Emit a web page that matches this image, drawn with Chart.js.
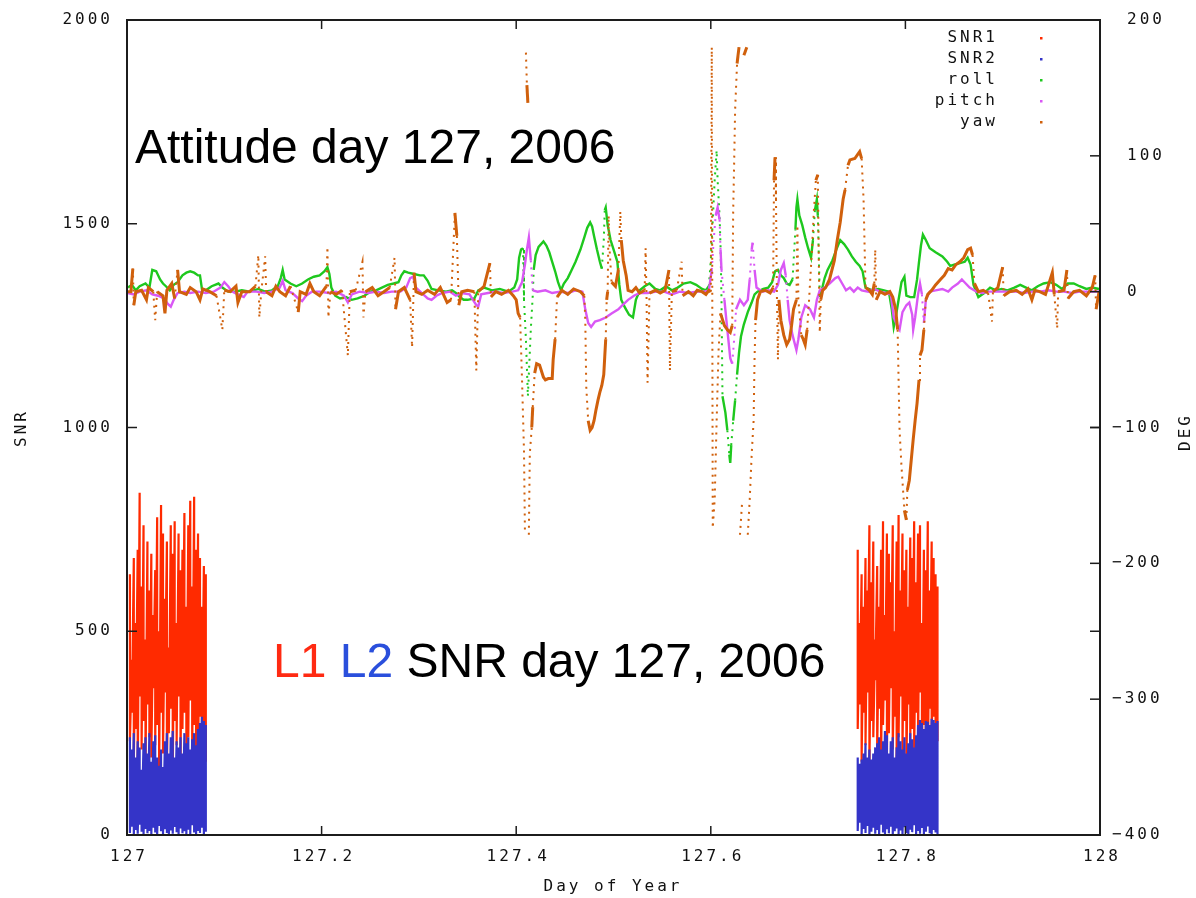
<!DOCTYPE html>
<html>
<head>
<meta charset="utf-8">
<title>Attitude and SNR, day 127 2006</title>
<script src="https://cdn.jsdelivr.net/npm/chart.js@4.4.1/dist/chart.umd.min.js"></script>
<style>
  html, body { margin: 0; padding: 0; background: #fff; }
  #wrap { width: 1196px; height: 898px; }
</style>
</head>
<body>
<div id="wrap"><canvas id="attChart"></canvas></div>
<script>
// axis ticks
const xTicks = [127, 127.2, 127.4, 127.6, 127.8, 128];
const xTickLabels = ['127', '127.2', '127.4', '127.6', '127.8', '128'];
const snrTicks = [0, 500, 1000, 1500, 2000];
const degTicks = [200, 100, 0, -100, -200, -300, -400];

// SNR passes: first pass (start of day) and second pass (~127.75)
const snrDayA = [127.003, 127.005, 127.007, 127.009, 127.011, 127.013, 127.015, 127.017, 127.019, 127.021,
  127.023, 127.025, 127.027, 127.029, 127.031, 127.033, 127.035, 127.037, 127.039, 127.041,
  127.043, 127.045, 127.047, 127.049, 127.051, 127.053, 127.055, 127.057, 127.059, 127.061,
  127.063, 127.065, 127.067, 127.069, 127.071, 127.073, 127.075, 127.077, 127.079, 127.081];
const snr1HiA = [640, 430, 680, 520, 700, 840, 610, 760, 480, 720, 600, 690, 540, 650, 780, 500, 810, 740, 580, 720,
  460, 760, 690, 770, 520, 740, 650, 700, 790, 560, 760, 820, 610, 830, 700, 740, 680, 560, 660, 640];
const snr1LoA = [230, 300, 180, 260, 120, 340, 210, 280, 150, 320, 240, 190, 360, 220, 270, 140, 300, 200, 350, 170,
  250, 310, 130, 280, 220, 340, 180, 260, 300, 150, 240, 330, 190, 270, 210, 160, 290, 230, 200, 180];
const snr2HiA = [240, 210, 250, 190, 230, 215, 160, 225, 240, 200, 250, 180, 230, 245, 190, 170, 210, 167, 230, 250,
  200, 240, 255, 190, 230, 215, 240, 200, 250, 225, 240, 210, 235, 250, 220, 260, 275, 290, 280, 270];
const snr2LoA = [5, 20, 0, 12, 3, 25, 8, 0, 15, 4, 10, 0, 18, 6, 2, 22, 9, 0, 14, 5,
  0, 11, 3, 20, 7, 0, 16, 4, 9, 0, 13, 2, 24, 6, 0, 10, 5, 18, 0, 8];

const snrDayB = [127.751, 127.753, 127.755, 127.757, 127.759, 127.761, 127.763, 127.765, 127.767, 127.769,
  127.771, 127.773, 127.775, 127.777, 127.779, 127.781, 127.783, 127.785, 127.787, 127.789,
  127.791, 127.793, 127.795, 127.797, 127.799, 127.801, 127.803, 127.805, 127.807, 127.809,
  127.811, 127.813, 127.815, 127.817, 127.819, 127.821, 127.823, 127.825, 127.827, 127.829,
  127.831, 127.833];
const snr1HiB = [700, 520, 640, 560, 680, 600, 760, 620, 720, 480, 660, 560, 700, 770, 540, 740, 690, 620, 760, 500,
  720, 785, 600, 740, 650, 700, 560, 730, 680, 770, 620, 740, 760, 520, 700, 650, 770, 600, 720, 680, 640, 610];
const snr1LoB = [260, 320, 180, 300, 220, 350, 160, 280, 240, 380, 200, 310, 150, 270, 330, 190, 250, 360, 210, 290,
  170, 240, 340, 200, 280, 150, 320, 230, 260, 190, 300, 220, 350, 180, 270, 240, 160, 310, 200, 290, 250, 230];
const snr2HiB = [190, 175, 185, 200, 225, 190, 210, 185, 200, 215, 225, 240, 210, 230, 255, 245, 200, 230, 240, 190,
  215, 250, 230, 210, 240, 200, 225, 250, 235, 215, 245, 270, 282, 275, 260, 280, 278, 270, 285, 282, 275, 280];
const snr2LoB = [10, 30, 0, 15, 5, 22, 0, 8, 18, 3, 12, 0, 25, 6, 0, 14, 4, 20, 0, 9,
  16, 2, 11, 0, 19, 5, 0, 13, 7, 24, 0, 10, 3, 17, 0, 8, 21, 4, 0, 12, 6, 0];

// attitude, [day, degrees]; null = break in the track (yaw wraps at +/-180)
const rollDeg = [
  [127.001,3],[127.005,5],[127.009,1],[127.013,4],[127.019,6],[127.023,3],[127.026,16],[127.030,15],[127.034,9],[127.037,6],
  [127.040,4],[127.044,1],[127.048,5],[127.052,7],[127.057,12],[127.061,14],[127.065,15],[127.069,14],[127.073,12],[127.075,12],
  [127.077,2],[127.081,1],[127.087,4],[127.094,6],[127.098,3],[127.104,0],[127.111,0],[127.118,1],[127.126,0],[127.135,2],
  [127.142,0],[127.149,1],[127.155,4],[127.158,10],[127.160,16],[127.162,9],[127.168,6],[127.174,4],[127.180,6],[127.186,9],
  [127.192,11],[127.198,12],[127.203,15],[127.206,18],[127.208,13],[127.210,3],[127.214,-3],[127.219,-5],[127.225,-4],[127.231,-6],
  [127.237,-5],[127.244,-3],[127.250,0],[127.256,1],[127.262,3],[127.268,5],[127.274,6],[127.279,7],[127.282,12],[127.285,15],
  [127.289,14],[127.295,13],[127.301,12],[127.305,12],[127.309,8],[127.313,2],[127.320,1],[127.328,0],[127.334,1],[127.338,-1],
  [127.342,-4],[127.346,-6],[127.350,-6],[127.357,-5],[127.361,1],[127.367,3],[127.375,1],[127.383,2],[127.392,0],[127.398,3],
  [127.401,9],[127.403,25],[127.405,31],[127.407,32],[127.408,-6],[127.410,-35],[127.412,-77],[127.415,-28],[127.417,-3],[127.418,16],
  [127.420,27],[127.423,33],[127.428,37],[127.431,34],[127.434,29],[127.437,22],[127.440,15],[127.443,7],[127.446,1],[127.449,6],
  [127.453,10],[127.457,16],[127.461,22],[127.466,31],[127.470,40],[127.473,47],[127.476,51],[127.478,48],[127.480,41],[127.483,31],
  [127.486,22],[127.488,17],[127.490,38],[127.491,60],[127.492,62],[127.494,49],[127.497,38],[127.501,29],[127.504,22],[127.506,5],
  [127.508,-6],[127.512,-12],[127.516,-17],[127.520,-19],[127.523,-6],[127.527,1],[127.532,4],[127.537,6],[127.543,2],[127.548,1],
  [127.554,4],[127.560,1],[127.566,3],[127.572,6],[127.579,7],[127.585,5],[127.591,2],[127.595,1],[127.598,4],[127.600,23],
  [127.602,53],[127.604,82],[127.606,104],[127.607,82],[127.609,56],[127.610,34],[127.611,-6],[127.612,-77],[127.615,-89],[127.617,-102],
  [127.619,-120],[127.620,-126],[127.621,-113],[127.623,-95],[127.625,-80],[127.627,-61],[127.629,-45],[127.631,-33],[127.634,-24],[127.638,-15],
  [127.642,-8],[127.645,-2],[127.648,0],[127.654,2],[127.659,3],[127.663,7],[127.666,15],[127.669,16],[127.672,12],[127.675,10],
  [127.678,6],[127.681,5],[127.684,9],[127.687,46],[127.688,62],[127.689,68],[127.691,56],[127.694,49],[127.697,40],[127.700,32],
  [127.703,25],[127.705,38],[127.707,60],[127.709,68],[127.710,56],[127.712,-4],[127.714,1],[127.717,10],[127.720,16],[127.725,23],
  [127.729,31],[127.733,38],[127.737,35],[127.741,31],[127.745,26],[127.749,22],[127.753,19],[127.756,15],[127.759,3],[127.766,1],
  [127.772,2],[127.778,1],[127.783,0],[127.786,-13],[127.788,-26],[127.790,-19],[127.793,-6],[127.796,7],[127.799,11],[127.801,-3],
  [127.805,-4],[127.809,-4],[127.812,9],[127.814,22],[127.816,34],[127.818,42],[127.821,38],[127.825,32],[127.831,29],[127.838,26],
  [127.843,22],[127.846,19],[127.851,20],[127.856,21],[127.861,22],[127.864,25],[127.867,20],[127.870,5],[127.875,-4],[127.881,-1],
  [127.887,3],[127.893,1],[127.899,2],[127.905,1],[127.912,3],[127.918,5],[127.924,3],[127.930,1],[127.936,4],[127.942,6],
  [127.949,7],[127.955,5],[127.961,2],[127.967,6],[127.973,6],[127.979,4],[127.986,2],[127.992,3],[127.999,2]
];

const pitchDeg = [
  [127.001,-1],[127.007,-2],[127.013,0],[127.020,1],[127.026,-2],[127.032,-3],[127.038,-5],[127.042,-9],[127.045,-11],[127.048,-6],
  [127.052,-1],[127.059,0],[127.065,-1],[127.073,0],[127.081,-1],[127.089,0],[127.096,3],[127.100,7],[127.104,4],[127.108,0],
  [127.114,-2],[127.120,-4],[127.124,0],[127.133,0],[127.141,-1],[127.149,0],[127.157,3],[127.160,8],[127.163,1],[127.170,-1],
  [127.176,-5],[127.180,-7],[127.184,-3],[127.190,0],[127.198,0],[127.207,-1],[127.215,0],[127.223,-3],[127.227,-8],[127.231,-2],
  [127.239,0],[127.248,-1],[127.256,0],[127.264,-1],[127.272,0],[127.281,0],[127.287,3],[127.291,10],[127.294,11],[127.297,3],
  [127.303,-1],[127.309,-5],[127.313,-6],[127.318,-3],[127.324,-1],[127.332,0],[127.338,-3],[127.344,-1],[127.352,-2],[127.359,-10],
  [127.361,-11],[127.364,-2],[127.371,-1],[127.379,0],[127.387,-1],[127.396,0],[127.402,1],[127.406,7],[127.409,20],[127.411,31],
  [127.413,40],[127.415,23],[127.417,1],[127.422,0],[127.430,1],[127.437,-1],[127.445,0],[127.453,-1],[127.461,1],[127.468,0],
  [127.471,-13],[127.474,-23],[127.477,-26],[127.481,-22],[127.486,-21],[127.492,-19],[127.498,-16],[127.505,-13],[127.509,-10],[127.515,-6],
  [127.521,-3],[127.527,-1],[127.535,-1],[127.544,0],[127.552,0],[127.560,-2],[127.568,0],[127.577,-1],[127.585,0],[127.593,0],
  [127.598,1],[127.601,16],[127.603,38],[127.605,56],[127.607,62],[127.609,53],[127.610,31],[127.611,16],[127.614,-6],[127.616,-21],
  [127.618,-35],[127.620,-49],[127.622,-53],[127.624,-35],[127.626,-13],[127.630,-6],[127.634,-10],[127.638,-6],[127.640,9],[127.642,31],
  [127.643,36],[127.645,16],[127.647,3],[127.653,0],[127.659,1],[127.665,0],[127.669,5],[127.672,16],[127.675,21],[127.677,12],
  [127.679,-6],[127.681,-21],[127.684,-32],[127.688,-43],[127.690,-35],[127.693,-19],[127.697,-10],[127.702,-13],[127.706,-19],[127.709,-6],
  [127.712,1],[127.717,3],[127.722,6],[127.728,10],[127.731,11],[127.735,6],[127.739,1],[127.743,3],[127.747,0],[127.751,3],
  [127.755,1],[127.762,0],[127.768,2],[127.774,0],[127.780,-1],[127.785,-2],[127.788,-19],[127.791,-24],[127.794,-28],[127.797,-15],
  [127.801,-10],[127.804,-8],[127.807,-17],[127.808,-28],[127.810,-19],[127.813,-2],[127.815,6],[127.817,-2],[127.819,-23],[127.821,-6],
  [127.825,0],[127.831,1],[127.838,2],[127.844,0],[127.848,3],[127.854,6],[127.858,9],[127.862,6],[127.866,3],[127.873,0],
  [127.879,-1],[127.885,0],[127.891,0],[127.897,0],[127.905,0],[127.914,0],[127.922,-1],[127.930,0],[127.938,0],[127.947,1],
  [127.955,0],[127.963,0],[127.971,-1],[127.979,0],[127.988,0],[127.999,0]
];

const yawDeg = [
  [127.001,0],[127.004,0],[127.006,17],[127.007,-10],[127.009,0],[127.015,1],[127.020,-6],[127.022,3],[127.027,0],[127.029,-21],
  [127.031,0],[127.037,-3],[127.039,-16],[127.041,1],[127.046,6],[127.049,-5],[127.052,16],[127.054,0],[127.061,-2],[127.065,3],
  [127.071,0],[127.075,-6],[127.078,2],[127.085,0],[127.092,-3],[127.098,-28],[127.100,1],[127.106,0],[127.112,4],[127.114,-8],
  [127.118,0],[127.126,0],[127.132,4],[127.135,27],[127.136,-19],[127.138,0],[127.142,26],[127.143,0],[127.149,-3],[127.153,4],
  [127.157,0],[127.163,-3],[127.168,4],[127.176,-15],[127.178,0],[127.184,-2],[127.188,6],[127.192,0],[127.198,-3],[127.205,4],
  [127.206,33],[127.207,-19],[127.209,0],[127.215,-2],[127.221,1],[127.227,-47],[127.229,0],[127.235,1],[127.242,22],[127.243,-19],
  [127.245,0],[127.252,3],[127.258,-3],[127.264,0],[127.270,3],[127.275,25],[127.276,-13],[127.279,0],[127.285,3],[127.291,-6],
  [127.293,-41],[127.295,14],[127.297,0],[127.303,-2],[127.309,1],[127.316,-2],[127.322,3],[127.329,-8],[127.333,-6],[127.337,58],
  [127.339,41],[127.341,-10],[127.344,0],[127.350,1],[127.357,0],[127.359,-58],[127.361,0],[127.367,4],[127.373,21],[127.374,-4],
  [127.379,0],[127.385,-2],[127.392,1],[127.397,-3],[127.400,-6],[127.402,-16],[127.404,-19],[127.406,-65],[127.408,-117],[127.409,-178],
  null,
  [127.410,176],[127.411,152],[127.412,139],
  null,
  [127.413,-179],[127.414,-119],[127.416,-100],[127.417,-85],[127.419,-60],[127.421,-53],[127.424,-54],[127.428,-63],[127.430,-65],[127.433,-64],
  [127.437,-64],[127.438,-50],[127.440,-35],[127.442,-4],[127.447,1],[127.453,-2],[127.459,2],[127.466,0],[127.470,-3],[127.471,-21],
  [127.472,-70],[127.474,-95],[127.476,-102],[127.478,-100],[127.480,-95],[127.482,-87],[127.484,-80],[127.486,-74],[127.488,-69],[127.490,-61],
  [127.491,-48],[127.492,-35],[127.493,-6],[127.494,0],[127.495,56],[127.496,31],[127.498,7],[127.502,4],[127.505,16],[127.507,59],
  [127.508,38],[127.510,23],[127.513,12],[127.515,1],[127.519,0],[127.523,3],[127.527,-1],[127.532,1],[127.533,32],[127.534,-6],
  [127.535,-67],[127.537,-1],[127.543,1],[127.548,-1],[127.553,1],[127.557,16],[127.558,-58],[127.560,0],[127.565,1],[127.570,22],
  [127.571,-3],[127.577,0],[127.582,-3],[127.586,1],[127.591,0],[127.595,-2],[127.598,1],[127.600,0],[127.601,180],[127.602,-174],
  [127.604,-153],[127.606,-95],[127.608,-43],[127.610,-16],[127.614,-25],[127.617,-28],[127.620,-30],[127.622,-25],[127.623,59],[127.624,95],
  [127.625,134],[127.627,168],[127.629,180],
  null,
  [127.630,-179],[127.632,-157],
  null,
  [127.634,174],[127.637,180],
  null,
  [127.638,-179],[127.640,-153],[127.642,-120],[127.644,-95],[127.645,-48],[127.646,-21],[127.648,-6],[127.651,0],[127.656,1],[127.661,-1],
  [127.664,3],[127.665,82],[127.666,99],[127.667,68],[127.668,-6],[127.669,-50],[127.670,-6],[127.672,-21],[127.675,-32],[127.678,-39],
  [127.681,-35],[127.683,-25],[127.685,-13],[127.688,-6],[127.689,49],[127.690,-6],[127.693,-32],[127.695,-35],[127.697,-39],[127.699,-28],
  [127.701,-6],[127.704,31],[127.706,60],[127.708,82],[127.710,86],[127.711,23],[127.712,-30],[127.713,-6],[127.715,1],[127.718,3],
  [127.722,9],[127.727,23],[127.730,38],[127.733,51],[127.736,68],[127.738,75],[127.741,93],[127.743,97],[127.748,98],[127.751,101],
  [127.753,103],[127.755,98],[127.757,68],[127.759,3],[127.763,1],[127.766,-2],[127.768,6],[127.769,31],[127.770,-6],[127.774,0],
  [127.779,-2],[127.784,0],[127.787,-4],[127.790,-13],[127.792,-28],[127.794,-102],[127.796,-129],[127.799,-161],[127.801,-168],[127.802,-146],
  [127.804,-139],[127.806,-124],[127.808,-109],[127.810,-95],[127.812,-82],[127.814,-65],[127.815,-47],[127.817,-43],[127.819,-28],[127.821,-6],
  [127.823,-2],[127.827,1],[127.831,5],[127.836,9],[127.840,12],[127.844,17],[127.848,16],[127.852,20],[127.856,22],[127.860,25],
  [127.864,31],[127.867,32],[127.869,27],[127.871,6],[127.875,0],[127.880,1],[127.885,-1],[127.889,-22],[127.890,0],[127.895,3],
  [127.900,18],[127.901,-3],[127.907,0],[127.914,1],[127.920,-2],[127.926,2],[127.930,-6],[127.933,1],[127.938,0],[127.944,-2],
  [127.951,14],[127.953,-2],[127.956,-27],[127.957,0],[127.963,1],[127.966,16],[127.967,-5],[127.973,0],[127.979,1],[127.986,-3],
  [127.992,3],[127.995,12],[127.996,-13],[127.999,0]
];

const seriesNames = ['SNR1', 'SNR2', 'roll', 'pitch', 'yaw'];
const seriesColors = ['#ff2a00', '#3434c8', '#1ec81e', '#d957f5', '#d0600c'];

// each SNR sample becomes a vertical stroke: high value then low value
function strokes(days, hi, lo) {
  const pts = [];
  days.forEach((d, i) => {
    pts.push({ x: d, y: hi[i] });
    pts.push({ x: d, y: lo[i] });
  });
  return pts;
}

function track(list) {
  let lastX = 127;
  return list.map(p => {
    if (!p) return { x: lastX, y: null };
    lastX = p[0];
    return { x: p[0], y: p[1] };
  });
}

const snr1Pts = strokes(snrDayA, snr1HiA, snr1LoA)
  .concat([{ x: 127.5, y: null }], strokes(snrDayB, snr1HiB, snr1LoB));
const snr2Pts = strokes(snrDayA, snr2HiA, snr2LoA)
  .concat([{ x: 127.5, y: null }], strokes(snrDayB, snr2HiB, snr2LoB));

// steep jumps in the attitude tracks show up as sparse dots
const steep = ctx => Math.abs(ctx.p1.y - ctx.p0.y) > 24;

function attitudeSet(idx, pts, width, order) {
  return {
    label: seriesNames[idx],
    data: pts,
    yAxisID: 'y2',
    showLine: true,
    borderColor: seriesColors[idx],
    backgroundColor: seriesColors[idx],
    borderWidth: width,
    pointRadius: 0,
    pointHitRadius: 0,
    spanGaps: false,
    borderCapStyle: 'butt',
    segment: {
      borderDash: ctx => steep(ctx) ? [2, 5] : undefined,
      borderWidth: ctx => steep(ctx) ? 2 : undefined
    },
    order: order
  };
}

function snrSet(idx, pts, order) {
  return {
    label: seriesNames[idx],
    data: pts,
    yAxisID: 'y',
    showLine: true,
    borderColor: seriesColors[idx],
    backgroundColor: seriesColors[idx],
    borderWidth: 2.2,
    pointRadius: 0,
    pointHitRadius: 0,
    spanGaps: false,
    order: order
  };
}

const MONO = '"DejaVu Sans Mono", monospace';

const framePlugin = {
  id: 'gnuFrame',
  beforeDraw(chart) {
    const c = chart.ctx;
    c.save();
    c.fillStyle = '#fff';
    c.fillRect(0, 0, chart.width, chart.height);
    c.restore();
  },
  afterDatasetsDraw(chart) {
    const c = chart.ctx;
    c.save();
    c.letterSpacing = '0px';
    c.textBaseline = 'alphabetic';
    c.textAlign = 'left';
    c.font = '48px "Liberation Sans", Arial, sans-serif';
    c.fillStyle = '#000';
    c.fillText('Attitude day 127, 2006', 135, 163);

    const parts = [['L1 ', '#ff2a12'], ['L2 ', '#2a4fdc'], ['SNR day 127, 2006', '#000']];
    let x = 273;
    parts.forEach(([t, col]) => {
      c.fillStyle = col;
      c.fillText(t, x, 677);
      x += c.measureText(t).width;
    });
    c.restore();
  },
  afterDraw(chart) {
    const c = chart.ctx;
    const a = chart.chartArea;
    const sx = chart.scales.x, sy = chart.scales.y, sy2 = chart.scales.y2;
    c.save();

    // border
    c.strokeStyle = '#1c1c1c';
    c.lineWidth = 2;
    c.strokeRect(a.left, a.top, a.right - a.left, a.bottom - a.top);

    // inward ticks
    c.lineWidth = 1.5;
    const seg = (x1, y1, x2, y2) => { c.beginPath(); c.moveTo(x1, y1); c.lineTo(x2, y2); c.stroke(); };
    xTicks.forEach(v => {
      const px = sx.getPixelForValue(v);
      seg(px, a.bottom, px, a.bottom - 9);
      seg(px, a.top, px, a.top + 9);
    });
    snrTicks.forEach(v => {
      const py = sy.getPixelForValue(v);
      seg(a.left, py, a.left + 10, py);
      seg(a.right, py, a.right - 10, py);
    });
    degTicks.forEach(v => {
      const py = sy2.getPixelForValue(v);
      seg(a.right - 10, py, a.right, py);
    });

    // tick labels
    c.font = '16px ' + MONO;
    c.letterSpacing = '3px';
    c.fillStyle = '#111';
    c.textBaseline = 'middle';
    c.textAlign = 'center';
    xTicks.forEach((v, i) => {
      c.fillText(xTickLabels[i], sx.getPixelForValue(v) + 2, 857);
    });
    c.textAlign = 'right';
    snrTicks.forEach(v => {
      c.fillText(String(v), 113, sy.getPixelForValue(v));
    });
    c.textAlign = 'left';
    degTicks.forEach(v => {
      const label = v < 0 ? '\u2212' + Math.abs(v) : String(v);
      c.fillText(label, v < 0 ? 1112 : 1127, sy2.getPixelForValue(v));
    });

    // axis titles
    c.textAlign = 'center';
    c.fillText('Day of Year', 613, 887);
    c.save();
    c.translate(22, 428);
    c.rotate(-Math.PI / 2);
    c.fillText('SNR', 0, 0);
    c.restore();
    c.save();
    c.translate(1186, 432);
    c.rotate(-Math.PI / 2);
    c.fillText('DEG', 0, 0);
    c.restore();

    // key
    c.textAlign = 'right';
    seriesNames.forEach((name, i) => {
      const yy = 38 + i * 21;
      c.fillStyle = '#111';
      c.fillText(name, 998, yy);
      c.fillStyle = seriesColors[i];
      c.fillRect(1040, yy - 1, 2.5, 2.5);
    });
    c.restore();
  }
};

new Chart(document.getElementById('attChart'), {
  type: 'scatter',
  data: {
    datasets: [
      snrSet(0, snr1Pts, 5),
      snrSet(1, snr2Pts, 4),
      attitudeSet(2, track(rollDeg), 2.4, 3),
      attitudeSet(3, track(pitchDeg), 2.4, 2),
      attitudeSet(4, track(yawDeg), 3, 1)
    ]
  },
  options: {
    responsive: true,
    maintainAspectRatio: false,
    animation: false,
    layout: { padding: { top: 20, left: 0, right: 0, bottom: 0 } },
    plugins: { legend: { display: false }, tooltip: { enabled: false } },
    scales: {
      x: {
        type: 'linear', min: 127, max: 128,
        ticks: { display: false, stepSize: 0.2 },
        grid: { display: false }, border: { display: false },
        afterFit: s => { s.height = 63; }
      },
      y: {
        type: 'linear', position: 'left', min: 0, max: 2000,
        ticks: { display: false, stepSize: 500 },
        grid: { display: false }, border: { display: false },
        afterFit: s => { s.width = 127; }
      },
      y2: {
        type: 'linear', position: 'right', min: -400, max: 200,
        ticks: { display: false, stepSize: 100 },
        grid: { display: false }, border: { display: false },
        afterFit: s => { s.width = 96; }
      }
    }
  },
  plugins: [framePlugin]
});
</script>
</body>
</html>
